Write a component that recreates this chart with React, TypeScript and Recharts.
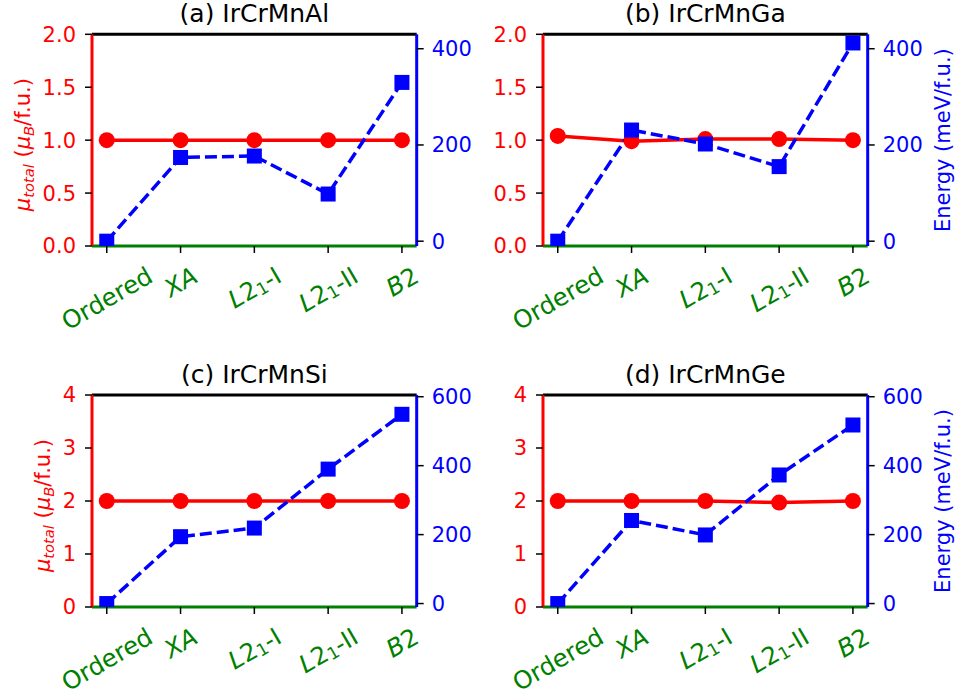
import React from 'react';
import { LineChart, Line, XAxis, YAxis, ReferenceLine } from 'recharts';

// structures on the x axis (same for every panel)
const categories = ['Ordered', 'XA', 'L2_1-I', 'L2_1-II', 'B2'];

// total moment (muB / f.u.)
const muIrCrMnAl = [1.0, 1.0, 1.0, 1.0, 1.0];
const muIrCrMnGa = [1.04, 0.99, 1.01, 1.01, 1.0];
const muIrCrMnSi = [2.0, 2.0, 2.0, 2.0, 2.0];
const muIrCrMnGe = [2.0, 2.0, 2.0, 1.97, 2.0];

// relative energy (meV / f.u.)
const eIrCrMnAl = [0, 174, 177, 98, 330];
const eIrCrMnGa = [0, 231, 202, 155, 412];
const eIrCrMnSi = [0, 194, 219, 390, 549];
const eIrCrMnGe = [0, 241, 199, 373, 518];

const muTicksTop = [0, 0.5, 1, 1.5, 2];
const muTicksBottom = [0, 1, 2, 3, 4];
const eTicksTop = [0, 200, 400];
const eTicksBottom = [0, 200, 400, 600];

const FONT = '"DejaVu Sans", sans-serif';
const XTICK = 24.5;
const YTICK = 21;

type Part = { t: string; i?: boolean; sub?: boolean };

function labelParts(name: string): Part[] {
  if (name === 'XA') return [{ t: 'XA', i: true }];
  if (name.startsWith('L2_1')) return [{ t: 'L', i: true }, { t: '2' }, { t: '1', sub: true }, { t: name.slice(4) }];
  if (name === 'B2') return [{ t: 'B', i: true }, { t: '2' }];
  return [{ t: name }];
}

let ctx: CanvasRenderingContext2D | null = null;
function measure(parts: Part[], size: number) {
  if (!ctx) ctx = document.createElement('canvas').getContext('2d');
  let w = 0;
  for (const p of parts) {
    const s = p.sub ? size * 0.7 : size;
    if (ctx) {
      ctx.font = `${p.i ? 'italic ' : ''}${s}px "DejaVu Sans"`;
      w += ctx.measureText(p.t).width;
    } else {
      w += p.t.length * s * 0.62;
    }
  }
  return w;
}

const CategoryTick = (props: any) => {
  const { x, y, payload } = props;
  const name = categories[payload.value];
  if (name === undefined) return null;
  const parts = labelParts(name);
  const w = measure(parts, XTICK);
  const cy = y + 20.2 + w / 4;
  return (
    <g transform={`translate(${x},${cy}) rotate(-30)`}>
      <text textAnchor="middle" dominantBaseline="central" fill="green" fontSize={XTICK} fontFamily={FONT}>
        {parts.map((p, k) => (
          <tspan
            key={k}
            fontStyle={p.i ? 'italic' : undefined}
            fontSize={p.sub ? XTICK * 0.7 : undefined}
            dy={p.sub ? 5 : k > 0 && parts[k - 1].sub ? -5 : undefined}
          >
            {p.t}
          </tspan>
        ))}
      </text>
    </g>
  );
};

const MuLabel = ({ px, py }: any) => (
  <text transform={`translate(${px},${py}) rotate(-90)`} textAnchor="middle" dominantBaseline="central" fill="red" fontSize={21} fontFamily={FONT}>
    <tspan fontStyle="italic">μ</tspan>
    <tspan fontStyle="italic" fontSize={14.7} dy={5}>total</tspan>
    <tspan dy={-5}>{'\u00a0('}</tspan>
    <tspan fontStyle="italic">μ</tspan>
    <tspan fontStyle="italic" fontSize={14.7} dy={5}>B</tspan>
    <tspan dy={-5}>/f.u.)</tspan>
  </text>
);

const EnergyLabel = ({ px, py }: any) => (
  <text transform={`translate(${px},${py}) rotate(-90)`} textAnchor="middle" dominantBaseline="central" fill="blue" fontSize={21} fontFamily={FONT}>
    Energy (meV/f.u.)
  </text>
);

const squareDot = (p: any) => (
  <rect key={`sq-${p.index}`} x={p.cx - 7.5} y={p.cy - 7.5} width={15} height={15} fill="blue" />
);

type PanelProps = {
  title: string;
  mu: number[];
  e: number[];
  left: number;
  top: number;
  marginTop: number;
  xHeight: number;
  muTicks: number[];
  eTicks: number[];
  eDomain: [number, number];
  muDigits: number;
  muLabelX?: number;
  energyLabel?: boolean;
};

const PLOT_W = 324.7;
const LEFT_W = 92;
const RIGHT_W = 86.7;

function Panel(p: PanelProps) {
  const rows = categories.map((c, i) => ({ x: i, mu: p.mu[i], e: p.e[i] }));
  const plotH = p.top === 0 ? 211.7 : 212;
  const muMax = p.muTicks[p.muTicks.length - 1];
  return (
    <div style={{ position: 'absolute', left: p.left, top: p.top }}>
      <LineChart
        width={LEFT_W + PLOT_W + RIGHT_W}
        height={p.marginTop + plotH + p.xHeight}
        data={rows}
        margin={{ top: p.marginTop, right: 0, bottom: 0, left: 0 }}
      >
        <XAxis
          dataKey="x"
          type="number"
          domain={[-0.2, 4.2]}
          ticks={[0, 1, 2, 3, 4]}
          interval={0}
          allowDataOverflow
          height={p.xHeight}
          axisLine={{ stroke: 'green', strokeWidth: 3 }}
          tickLine={{ stroke: '#000', strokeWidth: 1.5 }}
          tickSize={7}
          tickMargin={0}
          tick={<CategoryTick />}
        />
        <YAxis
          yAxisId="mu"
          orientation="left"
          width={LEFT_W}
          domain={[0, muMax]}
          ticks={p.muTicks}
          allowDataOverflow
          tickFormatter={(v: number) => v.toFixed(p.muDigits)}
          axisLine={{ stroke: 'red', strokeWidth: 3 }}
          tickLine={{ stroke: '#000', strokeWidth: 1.5 }}
          tickSize={7}
          tickMargin={9}
          tick={{ fill: 'red', fontSize: YTICK }}
          label={p.muLabelX !== undefined ? <MuLabel px={p.muLabelX} py={p.marginTop + plotH / 2 + 4.5} /> : undefined}
        />
        <YAxis
          yAxisId="e"
          orientation="right"
          width={RIGHT_W}
          domain={p.eDomain}
          ticks={p.eTicks}
          allowDataOverflow
          axisLine={{ stroke: 'blue', strokeWidth: 3 }}
          tickLine={{ stroke: '#000', strokeWidth: 1.5 }}
          tickSize={7}
          tickMargin={8}
          tick={{ fill: 'blue', fontSize: YTICK }}
          label={p.energyLabel ? <EnergyLabel px={943 - p.left} py={p.marginTop + plotH / 2} /> : undefined}
        />
        <ReferenceLine
          yAxisId="mu"
          y={muMax}
          stroke="#000"
          strokeWidth={3}
          label={{ value: p.title, position: 'top', offset: 12, fill: '#000', fontSize: 25 }}
        />
        <Line
          yAxisId="mu"
          dataKey="mu"
          stroke="red"
          strokeWidth={3.5}
          dot={{ r: 8, fill: 'red', stroke: 'red', strokeWidth: 0 }}
          activeDot={false}
          isAnimationActive={false}
        />
        <Line
          yAxisId="e"
          dataKey="e"
          stroke="blue"
          strokeWidth={3.5}
          strokeDasharray="12 5"
          dot={squareDot}
          activeDot={false}
          isAnimationActive={false}
        />
      </LineChart>
    </div>
  );
}

export default function App() {
  return (
    <div style={{ position: 'absolute', left: 0, top: 0, width: 955, height: 698, background: '#fff', fontFamily: FONT }}>
      <Panel title="(a) IrCrMnAl" mu={muIrCrMnAl} e={eIrCrMnAl} left={0} top={0} marginTop={34.3} xHeight={100}
        muTicks={muTicksTop} eTicks={eTicksTop} eDomain={[-10, 430]} muDigits={1} muLabelX={23} />
      <Panel title="(b) IrCrMnGa" mu={muIrCrMnGa} e={eIrCrMnGa} left={451.3} top={0} marginTop={34.3} xHeight={100}
        muTicks={muTicksTop} eTicks={eTicksTop} eDomain={[-10, 430]} muDigits={1} energyLabel />
      <Panel title="(c) IrCrMnSi" mu={muIrCrMnSi} e={eIrCrMnSi} left={0} top={360} marginTop={35} xHeight={91}
        muTicks={muTicksBottom} eTicks={eTicksBottom} eDomain={[-10, 605]} muDigits={0} muLabelX={43} />
      <Panel title="(d) IrCrMnGe" mu={muIrCrMnGe} e={eIrCrMnGe} left={451.3} top={360} marginTop={35} xHeight={91}
        muTicks={muTicksBottom} eTicks={eTicksBottom} eDomain={[-10, 605]} muDigits={0} energyLabel />
    </div>
  );
}
